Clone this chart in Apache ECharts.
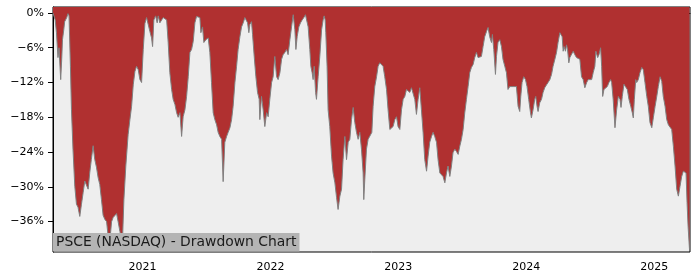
<!DOCTYPE html>
<html>
<head>
<meta charset="utf-8">
<script src="https://cdn.jsdelivr.net/npm/echarts@6/dist/echarts.min.js"></script>
<style>
html,body{margin:0;padding:0;background:#ffffff;}
#chart{width:700px;height:280px;}
</style>
</head>
<body>
<div id="chart"></div>
<script>
// Dates as decimal years, drawdown in percent
const dates = [
2020.301,2020.307,2020.318,2020.328,2020.340,2020.348,2020.353,2020.361,2020.369,2020.375,2020.385,2020.392,2020.408,2020.418,2020.426,2020.437,2020.445,2020.457,2020.471,2020.484,2020.496,2020.510,2020.523,2020.536,2020.549,2020.562,2020.575,2020.588,2020.600,2020.614,2020.627,2020.640,2020.653,2020.666,2020.679,2020.692,2020.705,2020.719,2020.731,2020.744,2020.758,2020.770,2020.783,2020.797,2020.809,2020.823,2020.836,2020.844,2020.854,2020.869,2020.887,2020.901,
2020.914,2020.927,2020.940,2020.953,2020.966,2020.979,2020.992,2021.005,2021.018,2021.031,2021.044,2021.057,2021.070,2021.078,2021.088,2021.102,2021.114,2021.122,2021.135,2021.149,2021.161,2021.174,2021.188,2021.200,2021.213,2021.227,2021.239,2021.253,2021.266,2021.278,2021.292,2021.305,2021.317,2021.331,2021.344,2021.357,2021.370,2021.383,2021.396,2021.409,2021.422,2021.435,2021.448,2021.456,2021.469,2021.479,2021.495,2021.513,2021.526,2021.539,
2021.552,2021.565,2021.579,2021.591,2021.604,2021.618,2021.630,2021.643,2021.657,2021.669,2021.683,2021.696,2021.708,2021.722,2021.735,2021.747,2021.761,2021.774,2021.787,2021.800,2021.813,2021.821,2021.831,2021.839,2021.852,2021.860,2021.873,2021.886,2021.899,2021.912,2021.917,2021.930,2021.943,2021.956,2021.970,2021.982,2021.995,2022.009,2022.021,2022.034,2022.048,2022.060,2022.074,2022.087,2022.099,2022.113,2022.126,2022.138,2022.152,2022.165,
2022.178,2022.191,2022.199,2022.209,2022.222,2022.235,2022.248,2022.261,2022.274,2022.287,2022.295,2022.308,2022.316,2022.326,2022.334,2022.342,2022.353,2022.360,2022.373,2022.386,2022.400,2022.412,2022.420,2022.428,2022.433,2022.443,2022.451,2022.464,2022.478,2022.490,2022.504,2022.517,2022.529,2022.543,2022.556,2022.568,2022.582,2022.595,2022.608,2022.621,2022.634,2022.647,2022.660,2022.673,2022.686,2022.699,2022.712,2022.725,2022.730,2022.738,2022.751,2022.764,2022.777,2022.793,
2022.803,2022.816,2022.830,2022.842,2022.855,2022.869,2022.881,2022.894,2022.908,2022.920,2022.934,2022.947,2022.959,2022.973,2022.986,2022.998,2023.012,2023.025,2023.038,2023.051,2023.064,2023.077,2023.090,2023.103,2023.116,2023.129,2023.142,2023.155,2023.168,2023.181,2023.194,2023.207,2023.221,2023.233,2023.246,2023.260,2023.272,2023.285,2023.299,2023.311,2023.325,2023.338,2023.350,2023.364,2023.377,2023.389,2023.403,
2023.416,2023.428,2023.442,2023.455,2023.468,2023.481,2023.494,2023.507,2023.520,2023.533,2023.546,2023.559,2023.572,2023.585,2023.598,2023.611,2023.624,2023.637,2023.650,2023.663,2023.676,2023.690,2023.702,2023.715,2023.729,2023.736,2023.747,2023.760,2023.768,2023.780,2023.794,2023.807,2023.819,2023.833,2023.846,2023.858,2023.872,2023.885,2023.898,2023.911,2023.924,2023.937,2023.950,2023.958,2023.968,2023.981,2023.995,2024.007,2024.020,2024.034,
2024.041,2024.054,2024.067,2024.075,2024.085,2024.093,2024.106,2024.120,2024.132,2024.145,2024.159,2024.171,2024.185,2024.198,2024.210,2024.224,2024.237,2024.249,2024.263,2024.271,2024.281,2024.289,2024.296,2024.307,2024.315,2024.323,2024.333,2024.341,2024.354,2024.367,2024.380,2024.393,2024.406,2024.419,2024.432,2024.445,2024.458,2024.472,2024.484,2024.497,2024.511,2024.523,2024.536,2024.544,2024.558,2024.568,2024.581,2024.589,2024.597,2024.607,2024.620,2024.633,2024.646,2024.659,
2024.667,2024.679,2024.693,2024.706,2024.719,2024.732,2024.740,2024.750,2024.763,2024.776,2024.789,2024.802,2024.816,2024.828,2024.836,2024.844,2024.855,2024.862,2024.875,2024.888,2024.902,2024.914,2024.927,2024.941,2024.953,2024.966,2024.980,2024.992,2025.006,2025.019,2025.031,2025.045,2025.058,2025.070,2025.084,2025.097,2025.110,2025.123,2025.136,2025.149,2025.162,2025.175,2025.188,2025.201,2025.214,2025.227,2025.240,2025.248,2025.256,2025.264,2025.275
];
const drawdown = [
0,-0.1,-1.2,-3.4,-7.7,-6.0,-6.3,-11.5,-8.0,-4.6,-2.9,-1.5,-0.8,-0.1,-0.5,-9.2,-16.7,-23.5,-29.9,-33.0,-33.5,-35.1,-33.0,-31.0,-29.0,-29.0,-30.4,-27.5,-25.3,-22.9,-25.3,-26.6,-28.4,-29.6,-32.2,-34.9,-35.6,-36.0,-38.5,-39.4,-36.0,-35.3,-35.6,-34.6,-36.0,-37.7,-39.3,-38.7,-32.2,-26.4,-21.0,-18.4,
-16.1,-12.4,-10.1,-9.2,-9.8,-11.5,-12.0,-6.3,-1.8,-0.8,-2.0,-3.2,-4.3,-5.8,-1.2,-0.5,-1.7,-0.5,-1.7,-1.2,-0.8,-0.5,-1.2,-5.1,-10.3,-13.2,-14.9,-15.8,-17.2,-18.0,-17.2,-21.3,-17.9,-16.7,-14.4,-11.0,-6.8,-6.3,-4.9,-1.7,-0.6,-0.5,-0.8,-3.4,-2.4,-5.1,-4.6,-4.3,-6.8,-12.0,
-17.2,-18.4,-19.3,-20.6,-21.3,-21.8,-29.1,-22.3,-21.3,-20.6,-19.8,-18.4,-16.1,-12.0,-9.2,-6.3,-4.1,-2.4,-1.7,-0.8,-0.5,-1.7,-3.4,-2.0,-1.5,-3.7,-7.5,-11.0,-13.7,-14.9,-18.4,-14.4,-16.7,-19.6,-17.2,-17.9,-14.9,-12.0,-11.0,-7.5,-11.0,-11.5,-10.3,-8.0,-7.2,-6.8,-6.3,-7.2,-4.6,-2.4,
-0.3,-2.9,-6.3,-4.1,-2.4,-1.7,-1.2,-0.8,-0.3,-0.3,-2.4,-6.3,-9.2,-10.3,-11.5,-9.2,-13.7,-14.9,-11.0,-7.5,-2.9,-1.2,-0.5,-1.2,-3.4,-9.2,-16.7,-19.6,-24.7,-27.6,-29.3,-31.8,-33.9,-31.6,-30.4,-25.3,-21.3,-25.3,-22.3,-21.8,-18.4,-16.3,-18.9,-20.6,-21.8,-20.6,-23.5,-27.6,-32.2,-28.7,-23.5,-21.8,-21.8,-20.6,
-16.1,-12.7,-11.0,-9.2,-8.6,-8.4,-9.2,-11.0,-13.2,-16.7,-20.1,-20.4,-19.6,-18.4,-17.9,-19.6,-20.1,-16.7,-14.9,-14.4,-13.2,-12.9,-13.7,-12.9,-13.2,-14.9,-17.5,-14.9,-12.9,-16.7,-20.6,-25.3,-27.3,-24.7,-22.3,-21.3,-20.6,-21.3,-22.3,-25.3,-27.6,-27.9,-28.2,-29.3,-27.6,-26.4,-28.2,
-26.4,-24.1,-23.5,-23.9,-24.4,-23.0,-21.8,-20.1,-17.2,-14.9,-12.7,-10.3,-9.4,-8.9,-7.7,-6.8,-7.7,-8.0,-7.5,-5.8,-4.1,-3.2,-2.5,-4.1,-5.1,-3.7,-6.3,-10.6,-7.5,-5.1,-4.6,-5.8,-8.0,-9.2,-10.3,-13.2,-12.7,-12.9,-12.7,-12.9,-12.7,-16.1,-17.0,-14.4,-12.0,-11.0,-11.5,-12.7,-14.9,-17.2,
-18.1,-16.7,-14.9,-14.4,-16.1,-17.0,-15.5,-14.9,-13.7,-12.9,-12.4,-12.0,-11.5,-10.6,-9.2,-8.0,-6.8,-5.1,-3.4,-3.2,-4.1,-6.6,-5.8,-6.6,-5.5,-6.3,-8.6,-7.7,-7.7,-6.6,-7.2,-7.7,-7.5,-8.0,-11.0,-11.5,-12.9,-12.0,-11.5,-11.2,-11.5,-10.3,-9.2,-6.6,-7.7,-7.2,-6.0,-9.2,-14.4,-13.2,-12.9,-12.7,-12.0,-11.5,
-12.0,-14.9,-19.8,-16.7,-14.4,-14.9,-16.3,-14.4,-12.3,-12.0,-13.2,-14.9,-16.1,-17.2,-18.1,-14.9,-11.5,-12.0,-11.5,-10.3,-9.4,-9.8,-12.0,-14.4,-16.1,-18.9,-19.8,-18.1,-16.1,-14.4,-12.7,-11.0,-11.8,-14.4,-16.1,-18.4,-19.3,-19.6,-20.1,-23.0,-26.4,-30.4,-31.6,-29.9,-28.2,-27.3,-27.6,-27.6,-32.7,-36.8,-40.8
];
const yearTicks = [2021, 2022, 2023, 2024, 2025];
const pctTicks = [0, -6, -12, -18, -24, -30, -36];
const xRange = [2020.301, 2025.279];
const yRange = [-41.24, 1.03];
const titleText = 'PSCE (NASDAQ) - Drawdown Chart';

if (dates.length !== drawdown.length) console.error('length mismatch', dates.length, drawdown.length);

function toTs(d) {
  const y = Math.floor(d);
  const s = Date.UTC(y, 0, 1), e = Date.UTC(y + 1, 0, 1);
  return s + (d - y) * (e - s);
}
const seriesData = dates.map((d, i) => [toTs(d), drawdown[i]]);
const yearTs = yearTicks.map(y => Date.UTC(y, 0, 1));

const FONT = 'DejaVu Sans';
const chart = echarts.init(document.getElementById('chart'), null, {renderer: 'canvas'});
chart.setOption({
  animation: false,
  backgroundColor: '#ffffff',
  title: {
    text: titleText,
    left: 53, top: 233,
    padding: [2, 3, 1, 3],
    backgroundColor: '#b4b4b4',
    textStyle: {fontFamily: FONT, fontSize: 13.9, fontWeight: 'normal', color: '#1a1a1a', lineHeight: 15.5}
  },
  grid: {
    left: 53, right: 10, top: 7, bottom: 28,
    show: true, backgroundColor: '#eeeeee', borderColor: '#000000', borderWidth: 1
  },
  xAxis: {
    type: 'value',
    min: toTs(xRange[0]), max: toTs(xRange[1]),
    axisLine: {show: true, lineStyle: {color: '#000000', width: 1}},
    axisTick: {show: true, length: 5, inside: false, customValues: yearTs, lineStyle: {color: '#000000'}},
    axisLabel: {
      customValues: yearTs, margin: 10, color: '#000000', fontFamily: FONT, fontSize: 11,
      formatter: v => String(new Date(v).getUTCFullYear())
    },
    splitLine: {show: false}
  },
  yAxis: {
    type: 'value',
    min: yRange[0], max: yRange[1],
    axisLine: {show: true, lineStyle: {color: '#000000', width: 1}},
    axisTick: {show: true, length: 5, customValues: pctTicks, lineStyle: {color: '#000000'}},
    axisLabel: {
      customValues: pctTicks, margin: 9, color: '#000000', fontFamily: FONT, fontSize: 11,
      formatter: v => (v < 0 ? '\u2212' : '') + Math.abs(v) + '%'
    },
    splitLine: {show: false}
  },
  series: [{
    type: 'line',
    data: seriesData,
    symbol: 'none',
    lineStyle: {color: '#808080', width: 1},
    areaStyle: {color: '#b03030', opacity: 1, origin: 'end'},
    z: 2
  }]
});
</script>
</body>
</html>
